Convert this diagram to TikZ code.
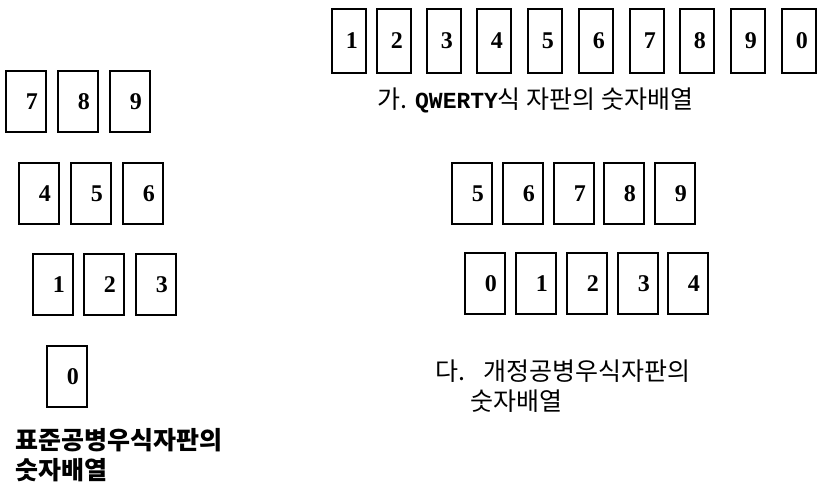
\documentclass[tikz,border=0pt]{standalone}
\usepackage{fontspec}
\setmainfont{Liberation Serif}
\newfontfamily\kr{Noto Sans CJK KR}
\newfontfamily\qmono{Liberation Mono}
\begin{document}
\begin{tikzpicture}[x=1pt,y=-1pt,
  keybox/.style={draw,line width=1.6pt,anchor=north west,minimum width=40pt,minimum height=61pt,
    text width=24pt,inner xsep=8pt,inner ysep=0pt,align=right,font=\bfseries\fontsize{24}{24}\selectfont},
  topbox/.style={keybox,minimum width=34pt,minimum height=64pt,text width=18pt},
  captext/.style={anchor=west,inner sep=0pt,font=\kr\fontsize{25}{25}\selectfont}]
\useasboundingbox (0,0) rectangle (819,482);
% left: standard
\node[keybox] (l7) at (5,70) {7};
\node[keybox] (l8) at (57,70) {8};
\node[keybox] (l9) at (109,70) {9};
\node[keybox] (l4) at (18,162) {4};
\node[keybox] (l5) at (70,162) {5};
\node[keybox] (l6) at (122,162) {6};
\node[keybox] (l1) at (32,253) {1};
\node[keybox] (l2) at (83,253) {2};
\node[keybox] (l3) at (135,253) {3};
\node[keybox] (l0) at (46,345) {0};
\node[captext,font=\kr\bfseries\fontsize{25}{25}\selectfont] (lc1) at (15,440) {표준공병우식자판의};
\node[captext,font=\kr\bfseries\fontsize{25}{25}\selectfont] (lc2) at (15,470) {숫자배열};
% top: QWERTY
\node[topbox] (t1) at (331,8) {1};
\node[topbox] (t2) at (376,8) {2};
\node[topbox] (t3) at (426,8) {3};
\node[topbox] (t4) at (476,8) {4};
\node[topbox] (t5) at (527,8) {5};
\node[topbox] (t6) at (578,8) {6};
\node[topbox] (t7) at (629,8) {7};
\node[topbox] (t8) at (679,8) {8};
\node[topbox] (t9) at (730,8) {9};
\node[topbox] (t0) at (781,8) {0};
\node[captext] (tc) at (377,100) {가.\hspace{8pt}{\qmono\bfseries\fontsize{23}{23}\selectfont QWERTY}식\hspace{6pt}자판의\hspace{6pt}숫자배열};
% right: revised
\node[keybox] (r5) at (451,162) {5};
\node[keybox] (r6) at (502,162) {6};
\node[keybox] (r7) at (553,162) {7};
\node[keybox] (r8) at (603,162) {8};
\node[keybox] (r9) at (654,162) {9};
\node[keybox] (r0) at (464,252) {0};
\node[keybox] (r1) at (515,252) {1};
\node[keybox] (r2) at (566,252) {2};
\node[keybox] (r3) at (617,252) {3};
\node[keybox] (r4) at (667,252) {4};
\node[captext] (rc1) at (435,371) {다.\hspace{18pt}개정공병우식자판의};
\node[captext] (rc2) at (470,401) {숫자배열};
\end{tikzpicture}
\end{document}
